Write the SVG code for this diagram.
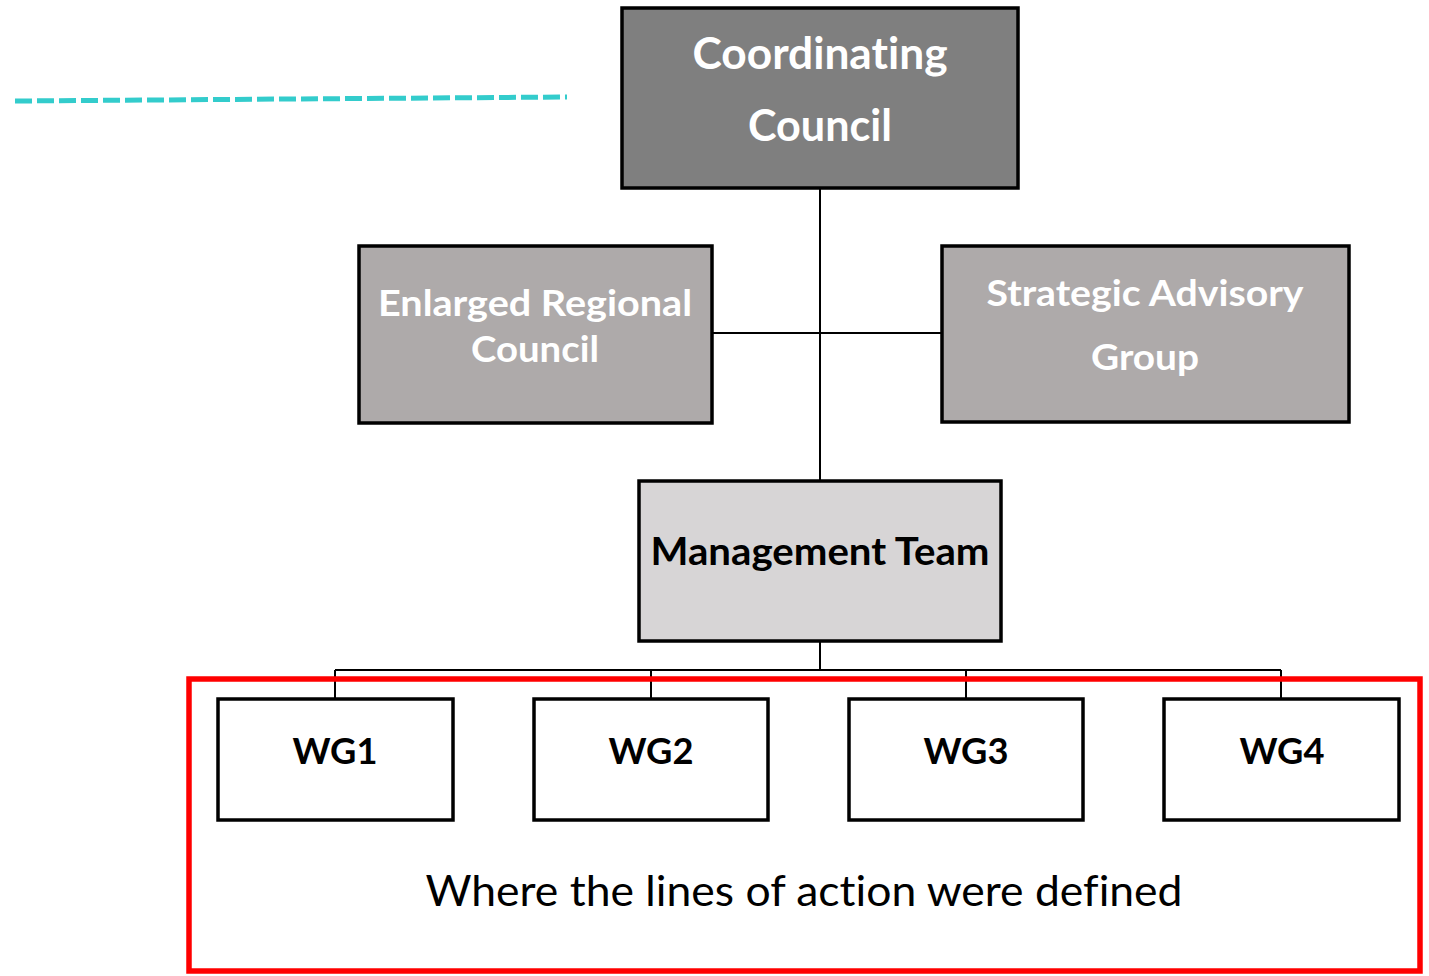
<svg xmlns="http://www.w3.org/2000/svg" width="1429" height="976" viewBox="0 0 1429 976">
<style>
.box{stroke:#000;stroke-width:3.5}
text{font-variant-ligatures:none;font-feature-settings:"liga" 0}
.t{font-family:Lato,"Open Sans","Liberation Sans",sans-serif;font-weight:bold;text-anchor:middle}
.w{fill:#fff}
.k{fill:#000}
.ln{stroke:#000;stroke-width:2;fill:none}
</style>
<rect width="1429" height="976" fill="#fff"/>
<line x1="15" y1="101" x2="567" y2="97" stroke="#33CCCC" stroke-width="5" stroke-dasharray="17 5"/>
<g id="connectors">
<line class="ln" x1="820" y1="188" x2="820" y2="480"/>
<line class="ln" x1="713" y1="333" x2="941" y2="333"/>
<line class="ln" x1="820" y1="641" x2="820" y2="670"/>
<line class="ln" x1="335" y1="670" x2="1281" y2="670"/>
<line class="ln" x1="335" y1="670" x2="335" y2="698"/>
<line class="ln" x1="651" y1="670" x2="651" y2="698"/>
<line class="ln" x1="966" y1="670" x2="966" y2="698"/>
<line class="ln" x1="1281" y1="670" x2="1281" y2="698"/>
</g>
<g id="coordinating-council">
<rect class="box" x="622" y="8" width="396" height="180" fill="#7F7F7F"/>
<text class="t w" x="820" y="69" font-size="44" textLength="255" lengthAdjust="spacingAndGlyphs">Coordinating</text>
<text class="t w" x="820" y="141" font-size="44" textLength="144" lengthAdjust="spacingAndGlyphs">Council</text>
</g>
<g id="enlarged-regional-council">
<rect class="box" x="359" y="246" width="353" height="177" fill="#AEAAAA"/>
<text class="t w" x="535" y="316" font-size="36" textLength="314" lengthAdjust="spacingAndGlyphs">Enlarged Regional</text>
<text class="t w" x="535" y="362" font-size="36" textLength="128" lengthAdjust="spacingAndGlyphs">Council</text>
</g>
<g id="strategic-advisory-group">
<rect class="box" x="942" y="246" width="407" height="176" fill="#AEAAAA"/>
<text class="t w" x="1145" y="306" font-size="37" textLength="317" lengthAdjust="spacingAndGlyphs">Strategic Advisory</text>
<text class="t w" x="1145" y="370" font-size="37" textLength="108" lengthAdjust="spacingAndGlyphs">Group</text>
</g>
<g id="management-team">
<rect class="box" x="639" y="481" width="362" height="160" fill="#D7D5D6"/>
<text class="t k" x="820" y="565" font-size="38" textLength="339" lengthAdjust="spacingAndGlyphs">Management Team</text>
</g>
<g id="wg1">
<rect class="box" x="218" y="699" width="235" height="121" fill="#fff"/>
<text class="t k" x="335" y="764" font-size="37" textLength="85" lengthAdjust="spacingAndGlyphs">WG1</text>
</g>
<g id="wg2">
<rect class="box" x="534" y="699" width="234" height="121" fill="#fff"/>
<text class="t k" x="651" y="764" font-size="37" textLength="85" lengthAdjust="spacingAndGlyphs">WG2</text>
</g>
<g id="wg3">
<rect class="box" x="849" y="699" width="234" height="121" fill="#fff"/>
<text class="t k" x="966" y="764" font-size="37" textLength="85" lengthAdjust="spacingAndGlyphs">WG3</text>
</g>
<g id="wg4">
<rect class="box" x="1164" y="699" width="235" height="121" fill="#fff"/>
<text class="t k" x="1282" y="764" font-size="37" textLength="85" lengthAdjust="spacingAndGlyphs">WG4</text>
</g>
<g id="wg-frame">
<rect x="189" y="679" width="1231" height="292" fill="none" stroke="#FF0000" stroke-width="5.5"/>
<text x="804" y="906" font-family="Lato,'Open Sans','Liberation Sans',sans-serif" font-size="43" text-anchor="middle" fill="#000" textLength="757" lengthAdjust="spacingAndGlyphs">Where the lines of action were defined</text>
</g>
</svg>
